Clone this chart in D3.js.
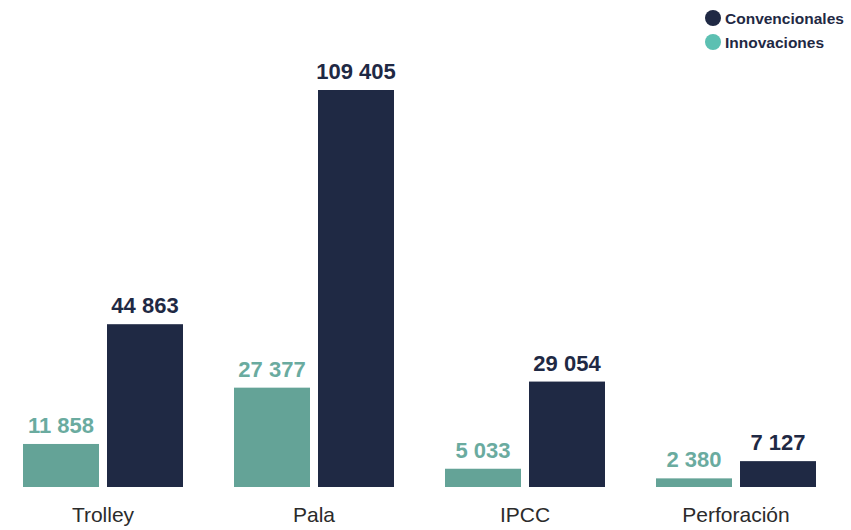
<!DOCTYPE html>
<html>
<head>
<meta charset="utf-8">
<script src="https://cdn.jsdelivr.net/npm/d3@7"></script>
<style>
  body { margin: 0; background: #fff; }
  text { font-family: "Liberation Sans", Arial, sans-serif; }
</style>
</head>
<body>
<div id="chart"></div>
<script>
// Chart Data
const categories = ["Trolley", "Pala", "IPCC", "Perforación"];
const seriesNames = ["Innovaciones", "Convencionales"];
const innovaciones = [11858, 27377, 5033, 2380];
const convencionales = [44863, 109405, 29054, 7127];

// Initialise Dimensions
const w = 851, h = 530, baseY = 487;
const barColors = { Innovaciones: "#64a397", Convencionales: "#1f2944" };
const labelColors = { Innovaciones: "#6aab9f", Convencionales: "#1f2944" };
const legendColors = { Innovaciones: "#5cc0b2", Convencionales: "#1f2944" };

const svg = d3.select("#chart").append("svg").attr("width", w).attr("height", h);

// Scales
const x0 = d3.scaleBand().domain(categories).range([23, 816]).paddingInner(51 / 211).paddingOuter(0);
const x1 = d3.scaleBand().domain(seriesNames).range([0, x0.bandwidth()]).paddingInner(8 / 84);
const y = d3.scaleLinear().domain([0, 109405]).range([baseY, 90]);

const fmt = v => d3.format(",")(v).replace(/,/g, " ");

// Build Rows For Each Group
const rows = categories.map((c, i) => ({
  cat: c,
  vals: [
    { key: "Innovaciones", value: innovaciones[i] },
    { key: "Convencionales", value: convencionales[i] }
  ]
}));

const groups = svg.selectAll("g.group").data(rows).enter().append("g")
  .attr("class", "group").attr("transform", d => `translate(${x0(d.cat)},0)`);

// Bars
groups.selectAll("rect").data(d => d.vals).enter().append("rect")
  .attr("x", d => x1(d.key)).attr("width", x1.bandwidth())
  .attr("y", d => y(d.value)).attr("height", d => baseY - y(d.value))
  .attr("fill", d => barColors[d.key]);

// Value Labels
groups.selectAll("text.val").data(d => d.vals).enter().append("text")
  .attr("class", "val")
  .attr("x", d => x1(d.key) + x1.bandwidth() / 2).attr("y", d => y(d.value) - 11)
  .attr("text-anchor", "middle").attr("font-size", 22).attr("font-weight", "bold")
  .attr("fill", d => labelColors[d.key]).text(d => fmt(d.value));

// Category Labels
svg.selectAll("text.cat").data(categories).enter().append("text")
  .attr("class", "cat")
  .attr("x", d => x0(d) + x0.bandwidth() / 2).attr("y", 522)
  .attr("text-anchor", "middle").attr("font-size", 21).attr("fill", "#2b2b2b").text(d => d);

// Legend
const legendItems = ["Convencionales", "Innovaciones"];
const legend = svg.selectAll("g.legend").data(legendItems).enter().append("g")
  .attr("class", "legend").attr("transform", (d, i) => `translate(713,${18 + i * 24})`);
legend.append("circle").attr("r", 8).attr("fill", d => legendColors[d]);
legend.append("text").attr("x", 12).attr("y", 5.5).attr("font-size", 15.5).attr("font-weight", "bold")
  .attr("fill", "#1f2944").text(d => d);
</script>
</body>
</html>
